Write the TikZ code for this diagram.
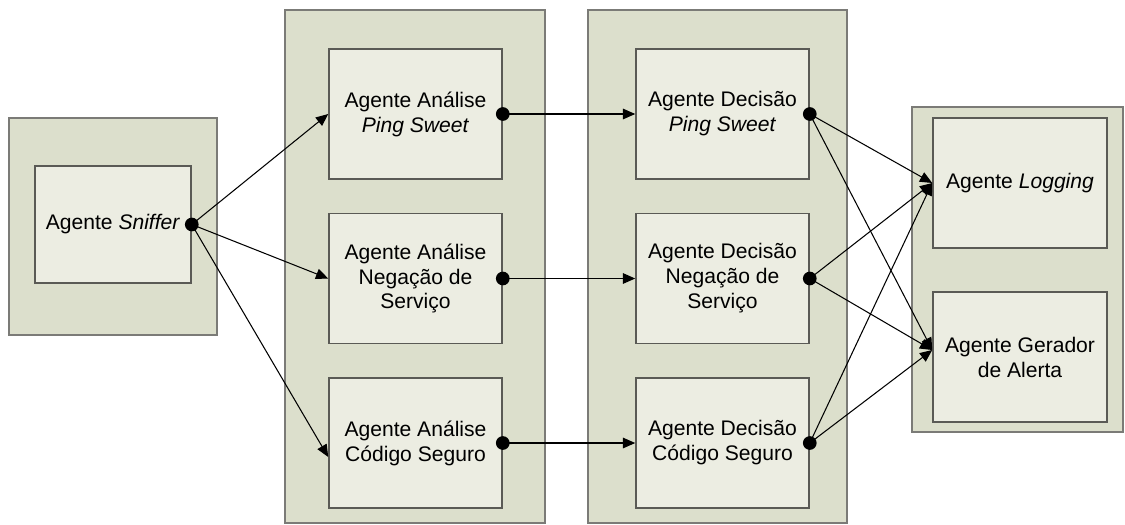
\documentclass[tikz,border=0pt]{standalone}
\usepackage{fontspec}
\setmainfont{Liberation Sans}
\usepackage{tikz}
\usetikzlibrary{arrows.meta}
\usetikzlibrary{calc}

\definecolor{grupo}{HTML}{DCDFCC}
\definecolor{caixa}{HTML}{ECEDE2}
\definecolor{borda}{HTML}{5A5A55}

\tikzset{
  grupobox/.style={draw=borda!80, fill=grupo, line width=0.8pt, inner sep=0pt},
  agente/.style={draw=borda, fill=caixa, line width=0.9pt, align=center,
    minimum width=3.46cm, minimum height=2.6cm, inner sep=0pt, font=\fontsize{12}{14.2}\selectfont},
  seta/.style={line width=0.6pt, -{Triangle[length=7pt,width=6pt]}},
}

\begin{document}
\begin{tikzpicture}[x=0.02cm, y=-0.02cm]
\useasboundingbox (0,0) rectangle (1125,524);
\fill[white] (0,0) rectangle (1125,524);
% grupos
\node [grupobox, minimum width=4.16cm, minimum height=4.34cm] (g1) at (113,226.5) {};
\node [grupobox, minimum width=5.2cm, minimum height=10.26cm] (g2) at (415,266.5) {};
\node [grupobox, minimum width=5.18cm, minimum height=10.26cm] (g3) at (717.5,266.5) {};
\node [grupobox, minimum width=4.22cm, minimum height=6.5cm] (g4) at (1017.5,269.5) {};
% agentes
\node [agente, minimum width=3.12cm, minimum height=2.34cm] (sniff) at (113,224.5) {Agente \textit{Sniffer}};
\node [agente] (a1) at (415.5,114) {Agente Análise\\\textit{Ping Sweet}};
\node [agente] (a2) at (415.5,278.5) {Agente Análise\\Negação de\\Serviço};
\node [agente] (a3) at (415.5,443) {Agente Análise\\Código Seguro};
\node [agente] (d1) at (722.5,114) {Agente Decisão\\\textit{Ping Sweet}};
\node [agente] (d2) at (722.5,278.5) {Agente Decisão\\Negação de\\Serviço};
\node [agente] (d3) at (722.5,443) {Agente Decisão\\Código Seguro};
\node [agente, minimum width=3.48cm] (log) at (1020,183) {Agente \textit{Logging}};
\node [agente, minimum width=3.48cm] (alert) at (1020,357) {Agente Gerador\\de Alerta};
% ligacoes
\draw [seta] (sniff.east) -- (a1.west);
\draw [seta] (sniff.east) -- (a2.west);
\draw [seta] (sniff.east) -- ($(a3.west)+(0,14)$);
\draw [seta] (a1.east) -- (d1.west);
\draw [seta] (a2.east) -- (d2.west);
\draw [seta] (a3.east) -- (d3.west);
\draw [seta] (d1.east) -- (log.west);
\draw [seta] (d1.east) -- ($(alert.west)+(0,-7)$);
\draw [seta] (d2.east) -- (log.west);
\draw [seta] (d2.east) -- ($(alert.west)+(0,-7)$);
\draw [seta] (d3.east) -- (log.west);
\draw [seta] (d3.east) -- ($(alert.west)+(0,-7)$);
\fill (sniff.east) circle [radius=3.9pt];
\fill (a1.east) circle [radius=3.9pt];
\fill (a2.east) circle [radius=3.9pt];
\fill (a3.east) circle [radius=3.9pt];
\fill (d1.east) circle [radius=3.9pt];
\fill (d2.east) circle [radius=3.9pt];
\fill (d3.east) circle [radius=3.9pt];
\end{tikzpicture}
\end{document}
